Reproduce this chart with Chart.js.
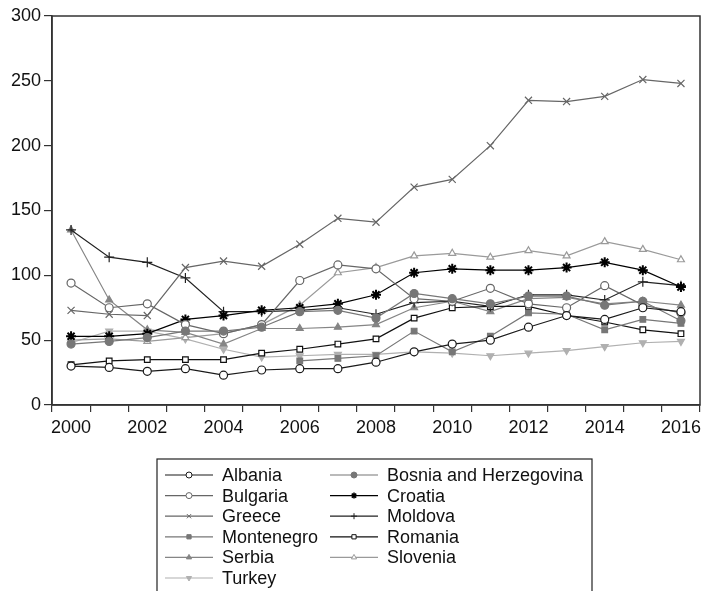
<!DOCTYPE html>
<html>
<head>
<meta charset="utf-8">
<script src="https://cdn.jsdelivr.net/npm/chart.js@4.4.0/dist/chart.umd.min.js"></script>
<style>
  html, body { margin: 0; padding: 0; background: #fff; }
  #wrap { width: 701px; height: 591px; }
</style>
</head>
<body>
<div id="wrap"><canvas id="priceChart" width="701" height="591"></canvas></div>
<script>
// Years on the x axis
const years = ['2000', '2001', '2002', '2003', '2004', '2005', '2006', '2007', '2008',
               '2009', '2010', '2011', '2012', '2013', '2014', '2015', '2016'];
const yTicks = [0, 50, 100, 150, 200, 250, 300];

// Series values
const albania    = [30, 29, 26, 28, 23, 27, 28, 28, 33, 41, 47, 50, 60, 69, 66, 75, 72];
const bosnia     = [47, 49, 52, 57, 57, 60, 72, 73, 67, 86, 82, 78, 84, 84, 77, 80, 65];
const bulgaria   = [94, 75, 78, 62, 55, 62, 96, 108, 105, 82, 80, 90, 78, 75, 92, 77, 71];
const croatia    = [53, 53, 55, 66, 69, 73, 75, 78, 85, 102, 105, 104, 104, 106, 110, 104, 91];
const greece     = [73, 70, 69, 106, 111, 107, 124, 144, 141, 168, 174, 200, 235, 234, 238, 251, 248];
const moldova    = [135, 114, 110, 98, 72, 72, 73, 75, 70, 79, 80, 76, 85, 85, 81, 95, 92];
const montenegro = [null, null, null, null, null, null, 34, 36, 38, 57, 41, 53, 71, 70, 58, 66, 63];
const romania    = [31, 34, 35, 35, 35, 40, 43, 47, 51, 67, 75, 76, 76, 69, 64, 58, 55];
const serbia     = [135, 81, 58, 56, 47, 59, 59, 60, 62, 75, 80, 72, 82, 83, 78, 80, 77];
const slovenia   = [50, 51, 49, 52, 55, 62, 77, 102, 106, 115, 117, 114, 119, 115, 126, 120, 112];
const turkey     = [48, 57, 57, 51, 43, 37, 38, 39, 39, 41, 40, 38, 40, 42, 45, 48, 49];

function series(label, data, color, style, hollow, rotation) {
    return {
        label: label,
        data: data,
        borderColor: color,
        backgroundColor: color,
        borderWidth: 1.2,
        pointStyle: style,
        pointRotation: rotation || 0,
        pointRadius: style === 'star' || style === 'cross' || style === 'crossRot' ? 5 : 4,
        pointBorderColor: color,
        pointBackgroundColor: hollow ? '#fff' : color,
        pointBorderWidth: style === 'star' ? 2 : 1.2,
        tension: 0,
        fill: false,
        spanGaps: false
    };
}

const datasets = [
    series('Albania', albania, '#1a1a1a', 'circle', true),
    series('Bosnia and Herzegovina', bosnia, '#777', 'circle', false),
    series('Bulgaria', bulgaria, '#666', 'circle', true),
    series('Croatia', croatia, '#000', 'star', false),
    series('Greece', greece, '#666', 'crossRot', false),
    series('Moldova', moldova, '#222', 'cross', false),
    series('Montenegro', montenegro, '#777', 'rect', false),
    series('Romania', romania, '#111', 'rect', true),
    series('Serbia', serbia, '#858585', 'triangle', false),
    series('Slovenia', slovenia, '#9a9a9a', 'triangle', true),
    series('Turkey', turkey, '#b0b0b0', 'triangle', false, 180)
];

// Box around the plot area (top and right sides)
const frame = {
    id: 'frame',
    afterDraw(chart) {
        const a = chart.chartArea;
        const ctx = chart.ctx;
        ctx.save();
        ctx.strokeStyle = '#333';
        ctx.lineWidth = 1.5;
        ctx.strokeRect(a.left, a.top, a.right - a.left, a.bottom - a.top);
        ctx.restore();
    }
};

// Two column legend in a box under the plot
const boxLegend = {
    id: 'boxLegend',
    afterDraw(chart) {
        const ctx = chart.ctx;
        const left = 157, top = 459, right = 592;
        const rowH = 20.6, firstRow = 475;
        const cols = [165, 330];
        ctx.save();
        ctx.strokeStyle = '#222';
        ctx.lineWidth = 1.2;
        ctx.strokeRect(left, top, right - left, 200);
        ctx.font = '18px "Liberation Sans", Arial, sans-serif';
        ctx.textBaseline = 'middle';
        chart.data.datasets.forEach((ds, i) => {
            const x = cols[i % 2];
            const y = firstRow + Math.floor(i / 2) * rowH;
            ctx.strokeStyle = ds.borderColor;
            ctx.lineWidth = 1.2;
            ctx.beginPath();
            ctx.moveTo(x, y);
            ctx.lineTo(x + 48, y);
            ctx.stroke();
            ctx.fillStyle = ds.pointBackgroundColor;
            ctx.strokeStyle = ds.pointBorderColor;
            ctx.lineWidth = ds.pointStyle === 'star' ? 1.5 : 1;
            Chart.helpers.drawPoint(ctx, {
                pointStyle: ds.pointStyle,
                rotation: ds.pointRotation,
                radius: 3,
                borderWidth: 1
            }, x + 24, y);
            ctx.fillStyle = '#111';
            ctx.fillText(ds.label, x + 57, y + 1);
        });
        ctx.restore();
    }
};

const ctx = document.getElementById('priceChart').getContext('2d');
const priceChart = new Chart(ctx, {
    type: 'line',
    data: { labels: years, datasets: datasets },
    plugins: [frame, boxLegend],
    options: {
        responsive: false,
        animation: false,
        layout: { autoPadding: false, padding: { top: 16, right: 1, left: 0, bottom: 0 } },
        plugins: {
            legend: { display: false },
            tooltip: { enabled: false }
        },
        scales: {
            x: {
                type: 'category',
                offset: true,
                grid: { offset: true, drawOnChartArea: false, tickLength: 7, color: '#333', lineWidth: 1.2 },
                border: { color: '#333', width: 1.5 },
                ticks: {
                    autoSkip: false,
                    maxRotation: 0,
                    color: '#111',
                    padding: 5,
                    font: { family: '"Liberation Sans", Arial, sans-serif', size: 18 },
                    callback: function (value, index) {
                        return index % 2 === 0 ? this.getLabelForValue(value) : '';
                    }
                },
                afterFit(scale) {
                    scale.height = 186;
                    scale.paddingLeft = 0;
                    scale.paddingRight = 0;
                }
            },
            y: {
                min: 0,
                max: 300,
                afterBuildTicks(scale) { scale.ticks = yTicks.map(v => ({ value: v })); },
                grid: { drawOnChartArea: false, tickLength: 8, color: '#333', lineWidth: 1.2 },
                border: { color: '#333', width: 1.5 },
                ticks: {
                    color: '#111',
                    padding: 3,
                    font: { family: '"Liberation Sans", Arial, sans-serif', size: 18 }
                },
                afterFit(scale) {
                    scale.width = 52;
                    scale.paddingTop = 0;
                    scale.paddingBottom = 0;
                }
            }
        }
    }
});
</script>
</body>
</html>
